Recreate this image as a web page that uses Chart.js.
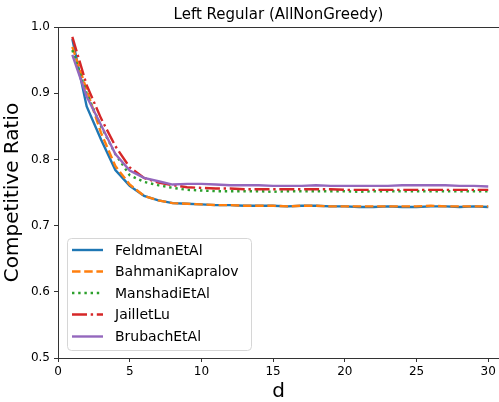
<!DOCTYPE html>
<html>
<head>
<meta charset="utf-8">
<script src="https://cdn.jsdelivr.net/npm/chart.js@4"></script>
<style>
  html, body { margin: 0; padding: 0; background: #fff; }
  canvas { display: block; }
</style>
</head>
<body>
<canvas id="ratioChart" width="499" height="402"></canvas>
<script>
const dValues = [1, 2, 3, 4, 5, 6, 7, 8, 9, 10, 11, 12, 13, 14, 15, 16, 17, 18, 19, 20, 21, 22, 23, 24, 25, 26, 27, 28, 29, 30];

const feldman = [0.982, 0.880, 0.830, 0.784, 0.760, 0.745, 0.738, 0.734, 0.733, 0.732, 0.731, 0.731, 0.730, 0.730, 0.730, 0.729, 0.730, 0.730, 0.729, 0.729, 0.728, 0.728, 0.729, 0.728, 0.728, 0.729, 0.729, 0.728, 0.729, 0.728];
const bahmani = [0.970, 0.905, 0.840, 0.790, 0.762, 0.745, 0.738, 0.734, 0.733, 0.732, 0.731, 0.731, 0.730, 0.730, 0.730, 0.729, 0.730, 0.730, 0.729, 0.729, 0.729, 0.729, 0.729, 0.729, 0.729, 0.730, 0.729, 0.729, 0.729, 0.729];
const manshadi = [0.965, 0.900, 0.850, 0.808, 0.776, 0.766, 0.761, 0.757, 0.754, 0.753, 0.752, 0.752, 0.752, 0.752, 0.751, 0.752, 0.752, 0.752, 0.752, 0.752, 0.751, 0.752, 0.752, 0.752, 0.752, 0.752, 0.752, 0.752, 0.752, 0.752];
const jaillet = [0.985, 0.912, 0.862, 0.820, 0.788, 0.772, 0.765, 0.761, 0.758, 0.757, 0.756, 0.756, 0.755, 0.755, 0.755, 0.755, 0.755, 0.755, 0.755, 0.754, 0.754, 0.754, 0.754, 0.754, 0.754, 0.754, 0.754, 0.754, 0.754, 0.754];
const brubach = [0.958, 0.895, 0.852, 0.808, 0.783, 0.772, 0.767, 0.762, 0.763, 0.763, 0.762, 0.761, 0.761, 0.761, 0.760, 0.760, 0.760, 0.761, 0.760, 0.760, 0.760, 0.760, 0.760, 0.761, 0.761, 0.761, 0.761, 0.760, 0.760, 0.759];

const seriesNames = ['FeldmanEtAl', 'BahmaniKapralov', 'ManshadiEtAl', 'JailletLu', 'BrubachEtAl'];
const yTicks = [0.5, 0.6, 0.7, 0.8, 0.9, 1.0];
const xTicks = [0, 5, 10, 15, 20, 25, 30];

const font = "DejaVu Sans";
const textColor = '#000000';
const lw = 2.4;

const styles = [
  { color: '#1f77b4', dash: [] },
  { color: '#ff7f0e', dash: [8.5, 3.7] },
  { color: '#2ca02c', dash: [2.4, 3.8] },
  { color: '#d62728', dash: [15, 3.7, 2.4, 3.7] },
  { color: '#9467bd', dash: [] }
];

const allSeries = [feldman, bahmani, manshadi, jaillet, brubach];

const datasets = allSeries.map((values, i) => ({
  label: seriesNames[i],
  data: values.map((v, j) => ({ x: dValues[j], y: v })),
  borderColor: styles[i].color,
  borderDash: styles[i].dash,
  borderWidth: lw,
  borderCapStyle: 'butt',
  pointRadius: 0,
  tension: 0,
  fill: false,
  order: allSeries.length - i
}));

// top spine, title and matplotlib-like legend box
const extras = {
  id: 'extras',
  afterDraw(chart) {
    const { ctx, chartArea } = chart;
    ctx.save();
    ctx.strokeStyle = '#333';
    ctx.lineWidth = 1;
    ctx.beginPath();
    ctx.moveTo(chartArea.left, chartArea.top + 0.5);
    ctx.lineTo(chartArea.right, chartArea.top + 0.5);
    ctx.stroke();

    ctx.fillStyle = textColor;
    ctx.font = `15px "${font}"`;
    ctx.textAlign = 'center';
    ctx.textBaseline = 'middle';
    ctx.fillText('Left Regular (AllNonGreedy)', (chartArea.left + chartArea.right) / 2, 15);

    // legend
    const bx = 67, by = 238, bw = 184, bh = 112, r = 4;
    ctx.beginPath();
    ctx.roundRect(bx + 0.5, by + 0.5, bw, bh, r);
    ctx.fillStyle = 'rgba(255,255,255,0.8)';
    ctx.fill();
    ctx.strokeStyle = '#d6d6d6';
    ctx.stroke();

    const rows = [250, 271.5, 293, 314.5, 336.5];
    chart.data.datasets.forEach((ds, i) => {
      const y = rows[i];
      ctx.beginPath();
      ctx.setLineDash(ds.borderDash);
      ctx.strokeStyle = ds.borderColor;
      ctx.lineWidth = lw;
      ctx.moveTo(72, y);
      ctx.lineTo(103, y);
      ctx.stroke();
      ctx.setLineDash([]);
      ctx.fillStyle = textColor;
      ctx.font = `14px "${font}"`;
      ctx.textAlign = 'left';
      ctx.fillText(ds.label, 115, y + 1);
    });
    ctx.restore();
  }
};

new Chart(document.getElementById('ratioChart'), {
  type: 'line',
  data: { datasets },
  plugins: [extras],
  options: {
    responsive: false,
    animation: false,
    devicePixelRatio: 1,
    layout: { padding: { top: 27, right: 0, left: 0, bottom: 0 } },
    plugins: {
      legend: { display: false },
      tooltip: { enabled: false },
      title: { display: false }
    },
    scales: {
      x: {
        type: 'linear',
        min: 0,
        max: 30.75,
        afterFit: (scale) => { scale.height = 44; },
        afterBuildTicks: (scale) => { scale.ticks = xTicks.map(v => ({ value: v })); },
        ticks: {
          includeBounds: false,
          color: textColor,
          padding: 3,
          maxRotation: 0,
          font: { family: font, size: 12 },
          callback: (v) => String(v)
        },
        grid: { drawOnChartArea: false, drawTicks: true, tickLength: 4, color: '#333' },
        border: { display: true, color: '#333', width: 1 },
        title: {
          display: true,
          text: 'd',
          color: textColor,
          font: { family: font, size: 20, lineHeight: 1.0 },
          padding: { top: 0, bottom: 0 }
        }
      },
      y: {
        min: 0.5,
        max: 1.0,
        afterFit: (scale) => { scale.width = 58; },
        afterBuildTicks: (scale) => { scale.ticks = yTicks.map(v => ({ value: v })); },
        ticks: {
          color: textColor,
          padding: 4,
          font: { family: font, size: 12 },
          callback: (v) => Number(v).toFixed(1)
        },
        grid: { drawOnChartArea: false, drawTicks: true, tickLength: 4, color: '#333' },
        border: { display: true, color: '#333', width: 1 },
        title: {
          display: true,
          text: 'Competitive Ratio',
          color: textColor,
          font: { family: font, size: 20 },
          padding: { top: 1, bottom: 0 }
        }
      }
    }
  }
});
</script>
</body>
</html>
